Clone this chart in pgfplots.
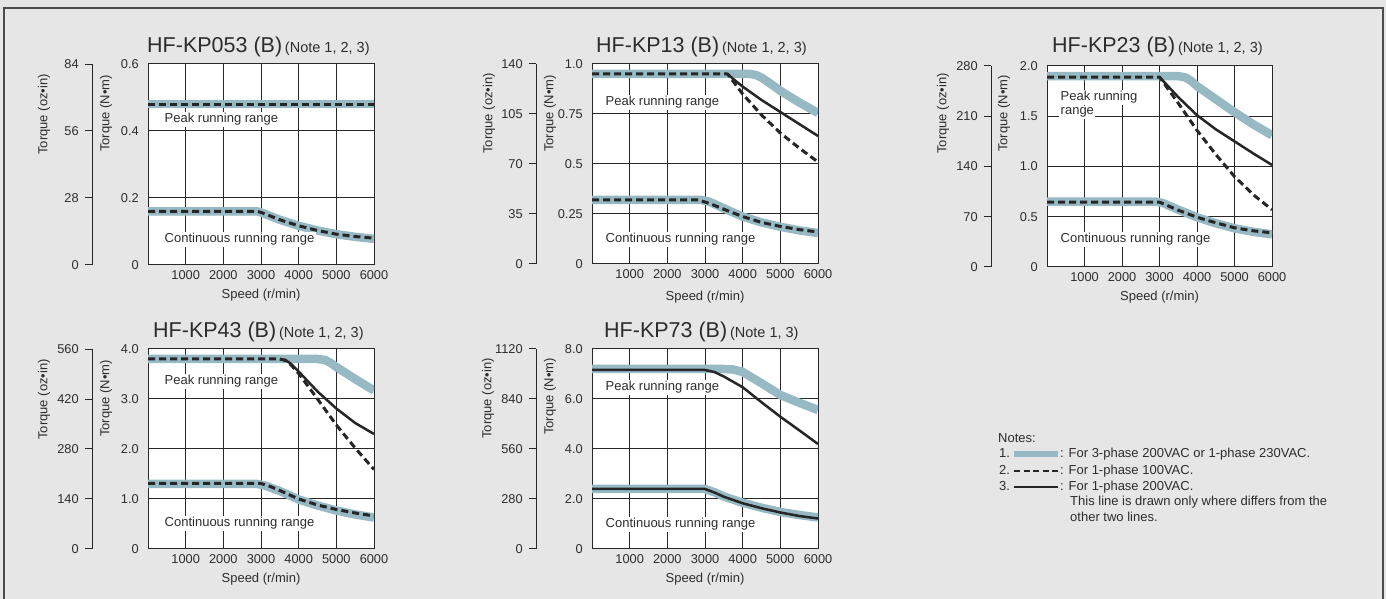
\documentclass[border=0pt]{standalone}
\usepackage{fontspec}
\setmainfont{Liberation Sans}
\usepackage{pgfplots}
\pgfplotsset{compat=1.18}
\definecolor{bg}{RGB}{230,230,230}
\definecolor{band}{RGB}{150,185,195}
\definecolor{txt}{RGB}{45,45,45}
\definecolor{gridc}{RGB}{40,40,40}
\newcommand{\tf}{\fontsize{12.8}{14}\selectfont}
\newcommand{\lf}{\fontsize{13}{15}\selectfont}
\newcommand{\ttl}[2]{{\fontsize{21.5}{24}\selectfont #1} {\fontsize{14.5}{16}\selectfont #2}}
\pgfplotsset{
  mainax/.style={
    scale only axis, anchor=south west,
    xmin=0, xmax=6000, ymin=0,
    axis background/.style={fill=white},
    xtick={1000,2000,3000,4000,5000,6000},
    xticklabels={1000,2000,3000,4000,5000,6000},
    grid=major,
    major grid style={draw=gridc, line width=1pt},
    axis line style={draw=gridc, line width=1pt},
    major tick length=0pt, tick style={draw=none},
    tick label style={font=\tf, text=txt},
    xticklabel shift=2pt, yticklabel shift=5.7pt,
  },
  secax/.style={
    scale only axis, anchor=south west, width=0.1pt,
    xmin=0, xmax=1, ymin=0, xtick=\empty,
    axis x line=none, axis y line*=left,
    axis line style={draw=gridc, line width=1pt},
    tick align=outside, major tick length=7pt,
    ytick style={draw=gridc, line width=1pt},
    tick label style={font=\tf, text=txt},
    yticklabel shift=2.7pt,
  },
  bandl/.style={color=band, line width=8.5pt, line cap=butt, line join=round},
  dashl/.style={color=black!85, line width=3pt, dash pattern=on 7pt off 4pt, line join=round},
  soll/.style={color=black!85, line width=2.5pt, line join=round},
}
\begin{document}
\begin{tikzpicture}[x=1pt,y=1pt]
\fill[bg] (0,0) rectangle (1386,599);
\draw[black!70, line width=1.2pt] (4,-5) -- (4,591) -- (1383,591) -- (1383,-5);

% ---------- Panel 1: HF-KP053 ----------
\begin{axis}[secax, at={(92pt,334pt)}, height=201pt, ymax=84,
  ytick={0,28,56,84}, yticklabels={0,28,56,84}]
\end{axis}
\begin{axis}[mainax, at={(148pt,334pt)}, width=226pt, height=201pt, ymax=0.6,
  ytick={0,0.2,0.4,0.6}, yticklabels={0,0.2,0.4,0.6}]
\addplot[bandl] coordinates {(0,0.48)(6000,0.48)};
\addplot[dashl] coordinates {(0,0.48)(6000,0.48)};
\addplot[bandl] coordinates {(0,0.16)(2900,0.16)(3000,0.157)(3250,0.146)(3500,0.135)(3750,0.126)(4000,0.117)(4500,0.103)(5000,0.092)(5500,0.084)(6000,0.078)};
\addplot[dashl] coordinates {(0,0.16)(2900,0.16)(3000,0.157)(3250,0.146)(3500,0.135)(3750,0.126)(4000,0.117)(4500,0.103)(5000,0.092)(5500,0.085)(6000,0.080)};
\end{axis}

% ---------- Panel 2: HF-KP13 ----------
\begin{axis}[secax, at={(536pt,335pt)}, height=200pt, ymax=140,
  ytick={0,35,70,105,140}, yticklabels={0,35,70,105,140}]
\end{axis}
\begin{axis}[mainax, at={(592pt,335pt)}, width=226pt, height=200pt, ymax=1.0,
  ytick={0,0.25,0.5,0.75,1.0}, yticklabels={0,0.25,0.5,0.75,1.0}]
\addplot[bandl] coordinates {(0,0.95)(4200,0.95)(4350,0.945)(4500,0.932)(4750,0.90)(5000,0.866)(5500,0.808)(6000,0.755)};
\addplot[dashl] coordinates {(0,0.95)(3600,0.95)(3700,0.925)(4000,0.85)(4500,0.745)(5000,0.655)(5500,0.58)(6000,0.51)};
\addplot[soll] coordinates {(3600,0.95)(3750,0.925)(4000,0.887)(4500,0.82)(5000,0.76)(5500,0.70)(6000,0.64)};
\addplot[bandl] coordinates {(0,0.32)(2900,0.32)(3100,0.312)(3250,0.30)(3500,0.278)(4000,0.237)(4500,0.208)(5000,0.186)(5500,0.168)(6000,0.155)};
\addplot[dashl] coordinates {(0,0.32)(2800,0.32)(3000,0.31)(3250,0.293)(3500,0.274)(4000,0.237)(4500,0.208)(5000,0.188)(5500,0.172)(6000,0.16)};
\end{axis}

% ---------- Panel 3: HF-KP23 ----------
\begin{axis}[secax, at={(991pt,332pt)}, height=201pt, ymax=280,
  ytick={0,70,140,210,280}, yticklabels={0,70,140,210,280}]
\end{axis}
\begin{axis}[mainax, at={(1047pt,332pt)}, width=225pt, height=201pt, ymax=2.0,
  ytick={0,0.5,1.0,1.5,2.0}, yticklabels={0,0.5,1.0,1.5,2.0}]
\addplot[bandl] coordinates {(0,1.9)(3500,1.9)(3700,1.885)(3850,1.85)(4000,1.80)(4500,1.67)(5000,1.54)(5500,1.42)(6000,1.31)};
\addplot[dashl] coordinates {(0,1.89)(3000,1.89)(3500,1.63)(4000,1.36)(4500,1.12)(5000,0.90)(5500,0.72)(6000,0.57)};
\addplot[soll] coordinates {(3000,1.89)(3500,1.69)(4000,1.51)(4500,1.37)(5000,1.25)(5500,1.13)(6000,1.015)};
\addplot[bandl] coordinates {(0,0.65)(2900,0.65)(3100,0.635)(3500,0.57)(4000,0.495)(4500,0.435)(5000,0.385)(5500,0.35)(6000,0.325)};
\addplot[dashl] coordinates {(0,0.645)(3000,0.645)(3250,0.605)(3500,0.565)(4000,0.495)(4500,0.44)(5000,0.39)(5500,0.36)(6000,0.34)};
\end{axis}

% ---------- Panel 4: HF-KP43 ----------
\begin{axis}[secax, at={(92pt,50pt)}, height=200pt, ymax=560,
  ytick={0,140,280,420,560}, yticklabels={0,140,280,420,560}]
\end{axis}
\begin{axis}[mainax, at={(148pt,50pt)}, width=226pt, height=200pt, ymax=4.0,
  ytick={0,1,2,3,4}, yticklabels={0,1.0,2.0,3.0,4.0}]
\addplot[bandl] coordinates {(0,3.8)(4500,3.8)(4700,3.78)(4850,3.72)(5000,3.64)(5500,3.40)(6000,3.17)};
\addplot[dashl] coordinates {(0,3.8)(3500,3.8)(3650,3.77)(3800,3.68)(4000,3.51)(4500,3.0)(5000,2.48)(5500,2.02)(6000,1.59)};
\addplot[soll] coordinates {(3500,3.8)(3650,3.78)(3800,3.70)(4000,3.55)(4500,3.15)(5000,2.81)(5500,2.52)(6000,2.3)};
\addplot[bandl] coordinates {(0,1.3)(2900,1.3)(3100,1.27)(3500,1.16)(4000,0.99)(4500,0.87)(5000,0.77)(5500,0.69)(6000,0.63)};
\addplot[dashl] coordinates {(0,1.31)(3000,1.31)(3250,1.25)(3500,1.17)(4000,1.0)(4500,0.88)(5000,0.79)(5500,0.72)(6000,0.66)};
\end{axis}

% ---------- Panel 5: HF-KP73 ----------
\begin{axis}[secax, at={(536pt,50pt)}, height=200pt, ymax=1120,
  ytick={0,280,560,840,1120}, yticklabels={0,280,560,840,1120}]
\end{axis}
\begin{axis}[mainax, at={(592pt,50pt)}, width=226pt, height=200pt, ymax=8.0,
  ytick={0,2,4,6,8}, yticklabels={0,2.0,4.0,6.0,8.0}]
\addplot[bandl] coordinates {(0,7.2)(3500,7.2)(3750,7.18)(4000,7.08)(4500,6.63)(5000,6.16)(5500,5.85)(6000,5.56)};
\addplot[soll] coordinates {(0,7.16)(3000,7.16)(3250,7.08)(3500,6.9)(4000,6.47)(4500,5.87)(5000,5.29)(5500,4.75)(6000,4.2)};
\addplot[bandl] coordinates {(0,2.4)(3000,2.4)(3250,2.27)(3500,2.1)(4000,1.85)(4500,1.65)(5000,1.48)(5500,1.36)(6000,1.26)};
\addplot[soll] coordinates {(0,2.4)(3000,2.4)(3250,2.26)(3500,2.09)(4000,1.83)(4500,1.63)(5000,1.46)(5500,1.32)(6000,1.22)};
\end{axis}

% ---------- Titles ----------
\begin{scope}[every node/.style={text=txt, inner sep=0pt}]
\node[anchor=base west] at (147,546) {\ttl{HF-KP053 (B)}{(Note 1, 2, 3)}};
\node[anchor=base west] at (596,546) {\ttl{HF-KP13 (B)}{(Note 1, 2, 3)}};
\node[anchor=base west] at (1052,546) {\ttl{HF-KP23 (B)}{(Note 1, 2, 3)}};
\node[anchor=base west] at (153,261) {\ttl{HF-KP43 (B)}{(Note 1, 2, 3)}};
\node[anchor=base west] at (604,261) {\ttl{HF-KP73 (B)}{(Note 1, 3)}};

% axis labels
\node[anchor=east, rotate=90, font=\lf] at (44,525) {Torque (oz•in)};
\node[anchor=east, rotate=90, font=\lf] at (106,524) {Torque (N•m)};
\node[anchor=east, rotate=90, font=\lf] at (489,526) {Torque (oz•in)};
\node[anchor=east, rotate=90, font=\lf] at (550,524) {Torque (N•m)};
\node[anchor=east, rotate=90, font=\lf] at (943,526) {Torque (oz•in)};
\node[anchor=east, rotate=90, font=\lf] at (1004,524) {Torque (N•m)};
\node[anchor=east, rotate=90, font=\lf] at (44,240) {Torque (oz•in)};
\node[anchor=east, rotate=90, font=\lf] at (106,239) {Torque (N•m)};
\node[anchor=east, rotate=90, font=\lf] at (488,241) {Torque (oz•in)};
\node[anchor=east, rotate=90, font=\lf] at (550,241) {Torque (N•m)};

\node[anchor=base, font=\lf] at (261,300) {Speed (r/min)};
\node[anchor=base, font=\lf] at (705,298) {Speed (r/min)};
\node[anchor=base, font=\lf] at (1159.5,298) {Speed (r/min)};
\node[anchor=base, font=\lf] at (261,16) {Speed (r/min)};
\node[anchor=base, font=\lf] at (705,16) {Speed (r/min)};
\end{scope}

% range labels
\begin{scope}[every node/.style={text=txt, fill=white, inner sep=1.5pt, anchor=base west, font=\lf}]
\node at (163,476) {Peak running range};
\node at (163,356) {Continuous running range};
\node at (604,493) {Peak running range};
\node at (604,356) {Continuous running range};
\node at (1059,498) {Peak running};
\node at (1059,484) {range};
\node at (1059,356) {Continuous running range};
\node at (163,214) {Peak running range};
\node at (163,72) {Continuous running range};
\node at (604,208) {Peak running range};
\node at (604,71) {Continuous running range};
\end{scope}

% notes
\begin{scope}[every node/.style={text=txt, inner sep=0pt, anchor=base west, font=\lf}]
\node at (998,156) {Notes:};
\node at (999,141) {1.};
\node at (999,124) {2.};
\node at (999,108) {3.};
\node at (1060,141) {: For 3-phase 200VAC or 1-phase 230VAC.};
\node at (1060,124) {: For 1-phase 100VAC.};
\node at (1060,108) {: For 1-phase 200VAC.};
\node at (1070,93) {This line is drawn only where differs from the};
\node at (1070,77) {other two lines.};
\end{scope}
\draw[band, line width=6pt] (1014,145) -- (1058,145);
\draw[black!85, line width=2.2pt, dash pattern=on 6pt off 3.5pt] (1014,128.3) -- (1058,128.3);
\draw[black!85, line width=2.2pt] (1014,112.3) -- (1058,112.3);

\pgfresetboundingbox
\useasboundingbox (0,0) rectangle (1386,599);
\end{tikzpicture}
\end{document}
